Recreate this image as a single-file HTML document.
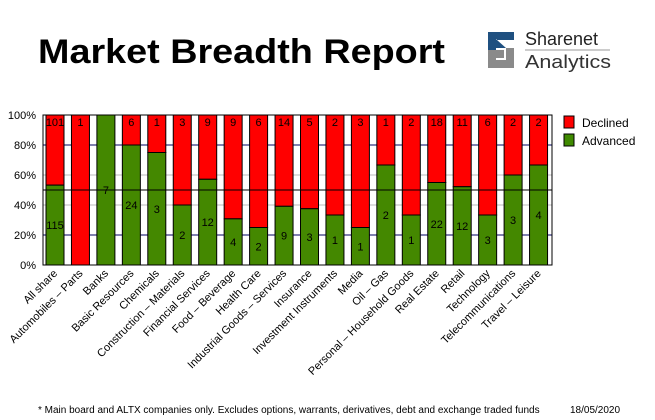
<!DOCTYPE html>
<html><head><meta charset="utf-8"><style>
html,body{margin:0;padding:0;background:#fff;width:655px;height:420px;overflow:hidden}
svg{display:block;font-family:"Liberation Sans",sans-serif}
</style></head><body>
<svg id="s" width="655" height="420" xmlns="http://www.w3.org/2000/svg">
<text x="38" y="63" font-size="34" font-weight="bold" textLength="407" lengthAdjust="spacingAndGlyphs" fill="#000">Market Breadth Report</text>
<g>
<path d="M488 32 H514 V40 H496 V48 H514 V56 H506 V48 Z" fill="#1f5080"/>
<rect x="488" y="32" width="8" height="22" fill="#1f5080"/>
<path d="M488 50 H504 V58 H496 V60 H514 V68 H488 Z" fill="#8a8a8a"/>
<path d="M506 48 H514 V68 H506 Z" fill="#8a8a8a"/>
<text x="525" y="45" font-size="18" fill="#222">Sharenet</text>
<line x1="525" y1="50" x2="610" y2="50" stroke="#999" stroke-width="1"/>
<text x="525" y="68" font-size="18" fill="#333" textLength="86" lengthAdjust="spacingAndGlyphs">Analytics</text>
</g>
<g id="chart"></g>
<rect x="564" y="116" width="10" height="12" fill="#f00" stroke="#000"/>
<rect x="564" y="134" width="10" height="12" fill="#3f8a00" stroke="#000"/>
<text x="582" y="127" font-size="12">Declined</text>
<text x="582" y="145" font-size="12">Advanced</text>
<text x="38" y="413" font-size="10">* Main board and ALTX companies only. Excludes options, warrants, derivatives, debt and exchange traded funds</text>
<text x="570" y="413" font-size="10">18/05/2020</text>
</svg>
<script>
var d=[["All share",115,101],["Automobiles - Parts",0,1],["Banks",7,0],["Basic Resources",24,6],["Chemicals",3,1],["Construction - Materials",2,3],["Financial Services",12,9],["Food - Beverage",4,9],["Health Care",2,6],["Industrial Goods - Services",9,14],["Insurance",3,5],["Investment Instruments",1,2],["Media",1,3],["Oil - Gas",2,1],["Personal - Household Goods",1,2],["Real Estate",22,18],["Retail",12,11],["Technology",3,6],["Telecommunications",3,2],["Travel - Leisure",4,2]];
var g=document.getElementById('chart'),h='';
var L=43,R=552,T=115,B=265,H=150;
[[0.2,'#000060'],[0.4,'#bbb'],[0.6,'#bbb'],[0.8,'#000060']].forEach(function(a){var y=B-a[0]*H;h+='<line x1="'+L+'" y1="'+y+'" x2="'+R+'" y2="'+y+'" stroke="'+a[1]+'"/>';});
for(var i=0;i<=5;i++){var y=B-i*30;h+='<text x="36" y="'+(y+4)+'" font-size="11" text-anchor="end">'+(i*20)+'%</text>';}
var w=(R-L)/20;
d.forEach(function(r,i){var x=L+3+i*w,t=r[1]+r[2],p=r[1]/t,yg=B-p*H,cx=x+9;
h+='<rect x="'+x+'" y="'+T+'" width="18" height="'+(yg-T)+'" fill="#f00" stroke="#000"/>';
if(p>0)h+='<rect x="'+x+'" y="'+yg+'" width="18" height="'+(B-yg)+'" fill="#448800" stroke="#000"/>';
if(r[2]>0)h+='<text x="'+cx+'" y="'+(T+11)+'" font-size="11" text-anchor="middle">'+r[2]+'</text>';
if(r[1]>0)h+='<text x="'+cx+'" y="'+((yg+B)/2+4)+'" font-size="11" text-anchor="middle">'+r[1]+'</text>';
h+='<text x="'+(cx+3)+'" y="274" font-size="11" text-anchor="end" transform="rotate(-45 '+(cx+3)+' 274)">'+r[0].replace('-','&#8211;')+'</text>';});
h+='<line x1="'+L+'" y1="190" x2="'+R+'" y2="190" stroke="#000"/>';
h+='<rect x="'+L+'" y="'+T+'" width="'+(R-L)+'" height="'+H+'" fill="none" stroke="#000"/>';
g.innerHTML=h;
</script>
</body></html>
